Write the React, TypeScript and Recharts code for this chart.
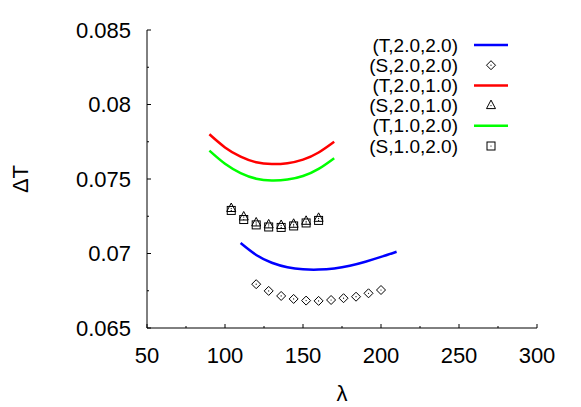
import React from 'react';
import { ComposedChart, Line, Scatter, XAxis, YAxis, Legend } from 'recharts';

const FONT = '"Liberation Sans", Arial, Helvetica, sans-serif';

// theory curves
const lambdaT1 = [110, 120, 130, 140, 150, 160, 170, 180, 190, 200, 210];
const dtT_2_2 = [0.0707, 0.0699, 0.06938, 0.06908, 0.06894, 0.06892, 0.069, 0.06918, 0.06945, 0.06977, 0.07012];
const lambdaT2 = [90, 100, 110, 120, 130, 140, 150, 160, 170];
const dtT_2_1 = [0.078, 0.07712, 0.0765, 0.07612, 0.076, 0.07606, 0.0763, 0.07678, 0.0775];
const dtT_1_2 = [0.0769, 0.07602, 0.0754, 0.07502, 0.0749, 0.07496, 0.0752, 0.07568, 0.0764];

// simulation points
const lambdaS1 = [120, 128, 136, 144, 152, 160, 168, 176, 184, 192, 200];
const dtS_2_2 = [0.06794, 0.06749, 0.06715, 0.06695, 0.06684, 0.06682, 0.06688, 0.067, 0.0671, 0.06733, 0.06755];
const lambdaS2 = [104, 112, 120, 128, 136, 144, 152, 160];
const dtS_2_1 = [0.07302, 0.07245, 0.07205, 0.07192, 0.07188, 0.07196, 0.07216, 0.07236];
const dtS_1_2 = [0.07289, 0.07228, 0.07192, 0.07178, 0.07175, 0.07185, 0.07205, 0.07222];

const xMajor = [50, 100, 150, 200, 250, 300];
const xMinor = [75, 125, 175, 225, 275];
const yMajor = [0.065, 0.07, 0.075, 0.08, 0.085];
const yMinor = [0.0675, 0.0725, 0.0775, 0.0825];
const yLabels = ['0.065', '0.07', '0.075', '0.08', '0.085'];

const toPoints = (xs: number[], ys: number[]) => xs.map((x, i) => ({ x, y: ys[i] }));

type MarkerKind = 'diamond' | 'triangle' | 'square';

const Marker = ({ cx, cy, kind }: { cx: number; cy: number; kind: MarkerKind }) => {
  let shape;
  if (kind === 'diamond') {
    shape = <polygon points={`${cx},${cy - 4.5} ${cx + 4.5},${cy} ${cx},${cy + 4.5} ${cx - 4.5},${cy}`} />;
  } else if (kind === 'triangle') {
    shape = <polygon points={`${cx},${cy - 5.5} ${cx + 4.5},${cy + 3} ${cx - 4.5},${cy + 3}`} />;
  } else {
    shape = <rect x={cx - 4} y={cy - 4} width={8} height={8} />;
  }
  return (
    <g fill="none" stroke="#000" strokeWidth={1}>
      {shape}
      <circle cx={cx} cy={cy} r={0.6} fill="#000" stroke="none" />
    </g>
  );
};

const legendItems = [
  { name: '(T,2.0,2.0)', color: '#0000ff' },
  { name: '(S,2.0,2.0)', marker: 'diamond' as MarkerKind },
  { name: '(T,2.0,1.0)', color: '#ff0000' },
  { name: '(S,2.0,1.0)', marker: 'triangle' as MarkerKind },
  { name: '(T,1.0,2.0)', color: '#00ff00' },
  { name: '(S,1.0,2.0)', marker: 'square' as MarkerKind },
];

const renderLegend = () => (
  <svg width={200} height={130} style={{ display: 'block' }}>
    {legendItems.map((item, i) => {
      const y = 10 + i * 20.2;
      return (
        <g key={item.name}>
          <text x={128} y={y} dy="0.35em" textAnchor="end" fontSize={19} fontFamily={FONT} fill="#000">
            {item.name}
          </text>
          {item.color ? (
            <line x1={144} x2={178} y1={y} y2={y} stroke={item.color} strokeWidth={2.5} />
          ) : (
            <Marker cx={161} cy={y} kind={item.marker!} />
          )}
        </g>
      );
    })}
  </svg>
);

const makeTick = (side: 'bottom' | 'top' | 'left' | 'right') => (props: any) => {
  const { x, y, payload } = props;
  const v = payload.value;
  const xi = xMajor.indexOf(v);
  const yi = yMajor.findIndex((m) => Math.abs(m - v) < 1e-9);
  const major = side === 'bottom' || side === 'top' ? xi >= 0 : yi >= 0;
  const len = major ? 4 : 2;
  if (side === 'bottom') {
    return (
      <g>
        <line x1={x} x2={x} y1={y} y2={y - len} stroke="#000" />
        {major && (
          <text x={x} y={y + 27} dy="0.35em" textAnchor="middle" fontSize={22} fontFamily={FONT} fill="#000">
            {v}
          </text>
        )}
      </g>
    );
  }
  if (side === 'top') return <line x1={x} x2={x} y1={y} y2={y + len} stroke="#000" />;
  if (side === 'right') return <line x1={x} x2={x - len} y1={y} y2={y} stroke="#000" />;
  return (
    <g>
      <line x1={x} x2={x + len} y1={y} y2={y} stroke="#000" />
      {major && (
        <text x={x - 16} y={y} dy="0.35em" textAnchor="end" fontSize={22} fontFamily={FONT} fill="#000">
          {yLabels[yi]}
        </text>
      )}
    </g>
  );
};

const xTicks = [...xMajor, ...xMinor].sort((a, b) => a - b);
const yTicks = [...yMajor, ...yMinor].sort((a, b) => a - b);

export default function App() {
  return (
    <div style={{ position: 'absolute', left: 0, top: 0, background: '#fff' }}>
      <ComposedChart width={581} height={407} margin={{ top: 30, right: 44, bottom: 29, left: 0 }}>
        <XAxis
          dataKey="x"
          type="number"
          domain={[50, 300]}
          ticks={xTicks}
          interval={0}
          tickSize={0}
          tickMargin={0}
          height={50}
          axisLine={{ stroke: '#000' }}
          tick={makeTick('bottom')}
          label={{
            content: (p: any) => (
              <text x={p.viewBox.x + p.viewBox.width / 2} y={p.viewBox.y + 65} dy="0.35em" textAnchor="middle" fontSize={22} fontFamily={FONT}>
                λ
              </text>
            ),
          }}
        />
        <XAxis
          xAxisId="top"
          orientation="top"
          type="number"
          domain={[50, 300]}
          ticks={xTicks}
          interval={0}
          tickSize={0}
          tickMargin={0}
          height={0}
          axisLine={{ stroke: '#000' }}
          tick={makeTick('top')}
        />
        <YAxis
          dataKey="y"
          type="number"
          domain={[0.065, 0.085]}
          ticks={yTicks}
          interval={0}
          tickSize={0}
          tickMargin={0}
          width={147}
          axisLine={{ stroke: '#000' }}
          tick={makeTick('left')}
          label={{
            content: (p: any) => {
              const cx = p.viewBox.x + 20;
              const cy = p.viewBox.y + p.viewBox.height / 2;
              return (
                <text x={cx} y={cy} dy="0.35em" textAnchor="middle" fontSize={22} fontFamily={FONT} transform={`rotate(-90 ${cx} ${cy})`}>
                  ΔT
                </text>
              );
            },
          }}
        />
        <YAxis
          yAxisId="right"
          orientation="right"
          type="number"
          domain={[0.065, 0.085]}
          ticks={yTicks}
          interval={0}
          tickSize={0}
          tickMargin={0}
          width={0}
          axisLine={{ stroke: '#000' }}
          tick={makeTick('right')}
        />
        <Legend layout="vertical" align="center" verticalAlign="middle" content={renderLegend} wrapperStyle={{ left: 330, top: 35, width: 200, height: 130 }} />
        <Line data={toPoints(lambdaT1, dtT_2_2)} dataKey="y" type="natural" stroke="#0000ff" strokeWidth={2.5} dot={false} isAnimationActive={false} />
        <Scatter data={toPoints(lambdaS1, dtS_2_2)} dataKey="y" shape={(p: any) => <Marker cx={p.cx} cy={p.cy} kind="diamond" />} isAnimationActive={false} />
        <Line data={toPoints(lambdaT2, dtT_2_1)} dataKey="y" type="natural" stroke="#ff0000" strokeWidth={2.5} dot={false} isAnimationActive={false} />
        <Scatter data={toPoints(lambdaS2, dtS_2_1)} dataKey="y" shape={(p: any) => <Marker cx={p.cx} cy={p.cy} kind="triangle" />} isAnimationActive={false} />
        <Line data={toPoints(lambdaT2, dtT_1_2)} dataKey="y" type="natural" stroke="#00ff00" strokeWidth={2.5} dot={false} isAnimationActive={false} />
        <Scatter data={toPoints(lambdaS2, dtS_1_2)} dataKey="y" shape={(p: any) => <Marker cx={p.cx} cy={p.cy} kind="square" />} isAnimationActive={false} />
      </ComposedChart>
    </div>
  );
}
